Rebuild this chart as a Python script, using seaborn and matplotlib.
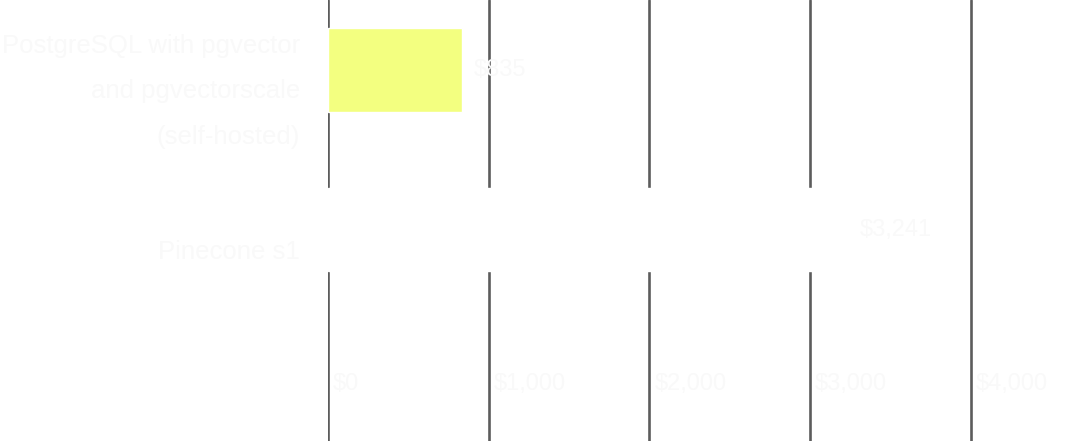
import matplotlib
matplotlib.use("Agg")
import matplotlib.pyplot as plt
import matplotlib.transforms as mtransforms
import seaborn as sns

# data
services = ["PostgreSQL with pgvector\nand pgvectorscale\n(self-hosted)", "Pinecone s1"]
monthly_cost = [835, 3241]
cost_labels = ["$835", "$3,241"]
ticks = [0, 1000, 2000, 3000, 4000]
tick_labels = ["$0", "$1,000", "$2,000", "$3,000", "$4,000"]
bar_colors = ["#F3FF80", "#FFFFFF"]

sns.set_theme(style="white")
plt.rcParams["font.family"] = ["Liberation Sans", "DejaVu Sans"]
text_col = "#f9f9f9"

fig = plt.figure(figsize=(10.8, 4.41), dpi=100)
ax = fig.add_axes([328 / 1080, 0, 1 - 328 / 1080, 1])

sns.barplot(x=monthly_cost, y=services, hue=services, palette=bar_colors,
            orient="h", width=0.52, saturation=1, legend=False, ax=ax, zorder=3)

ax.set_xlim(0, 4680)
ax.set_ylim(2.32, -0.4375)
for s in ax.spines.values():
    s.set_visible(False)

ax.set_xticks(ticks)
ax.set_xticklabels(tick_labels, ha="left")
ax.grid(axis="x", color="#5c5c5c", linewidth=1.9, zorder=0)
ax.grid(axis="y", visible=False)
ax.set_axisbelow(True)
ax.tick_params(axis="x", length=0, pad=-49, labelsize=17, labelcolor=text_col)
ax.tick_params(axis="y", length=0, pad=20, labelsize=18.5, labelcolor=text_col)

# shift x tick labels a little right of the grid line, y labels down a bit
dx = mtransforms.ScaledTranslation(5 / 100, 0, fig.dpi_scale_trans)
for lab in ax.get_xticklabels():
    lab.set_transform(lab.get_transform() + dx)
for lab, off in zip(ax.get_yticklabels(), [-8, -20]):
    dy = mtransforms.ScaledTranslation(0, off / 100, fig.dpi_scale_trans)
    lab.set_transform(lab.get_transform() + dy)
    lab.set_linespacing(2.15)

for cont in ax.containers:
    ax.bar_label(cont, labels=[cost_labels[int(round(b.get_y() + b.get_height() / 2))] for b in cont],
                 padding=8, fontsize=17, color=text_col)

ax.set_xlabel("")
ax.set_ylabel("")
fig.savefig("out.png", dpi=100, facecolor="white")
